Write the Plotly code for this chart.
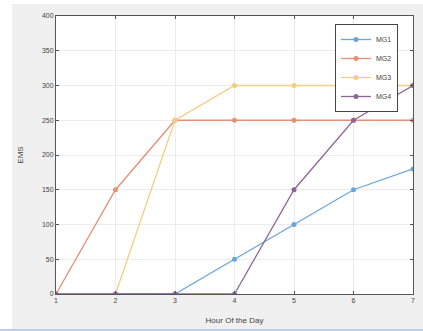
import plotly.graph_objects as go

hours = [1, 2, 3, 4, 5, 6, 7]
mg1 = [0, 0, 0, 50, 100, 150, 180]
mg2 = [0, 150, 250, 250, 250, 250, 250]
mg3 = [0, 0, 250, 300, 300, 300, 300]
mg4 = [0, 0, 0, 0, 150, 250, 300]
names = ["MG1", "MG2", "MG3", "MG4"]
colors = ["#6aa6d8", "#e39078", "#f0cf85", "#8f6599"]
x_ticks = [1, 2, 3, 4, 5, 6, 7]
y_ticks = [0, 50, 100, 150, 200, 250, 300, 350, 400]

fig = go.Figure()
for name, vals, c in zip(names, [mg1, mg2, mg3, mg4], colors):
    fig.add_trace(go.Scatter(x=hours, y=vals, name=name, mode="lines+markers",
                             line=dict(color=c, width=1.3),
                             marker=dict(color=c, size=5)))

axis_common = dict(showline=True, linecolor="#555", linewidth=1, mirror="ticks",
                   ticks="inside", ticklen=3, tickcolor="#555",
                   showgrid=True, gridcolor="#ececec", zeroline=False, automargin=False,
                   tickfont=dict(size=7, color="#444", family="Arial"))

PH = 278.0
PW = 357.0

fig.update_layout(
    width=423, height=331,
    margin=dict(l=56, r=10, t=16, b=37),
    paper_bgcolor="#f0f0f0", plot_bgcolor="white",
    xaxis=dict(range=[1, 7], tickvals=x_ticks,
               title=dict(text="Hour Of the Day", font=dict(size=8, color="#444", family="Arial"), standoff=13),
               **axis_common),
    yaxis=dict(range=[0, 400], tickvals=y_ticks,
               title=dict(text="EMS", font=dict(size=8, color="#444", family="Arial"), standoff=17),
               **axis_common),
    legend=dict(x=(335 - 56) / PW, y=(294 - 24) / PH, xanchor="left", yanchor="top",
                bgcolor="white", bordercolor="#444", borderwidth=1,
                font=dict(size=7, color="#444", family="Arial"),
                itemwidth=30, tracegroupgap=0),
    showlegend=True,
    shapes=[
        dict(type="rect", xref="paper", yref="paper", x0=-0.2, x1=-(56 - 12) / PW, y0=-0.2, y1=1.2,
             fillcolor="white", line=dict(width=0), layer="below"),
        dict(type="rect", xref="paper", yref="paper", x0=-0.2, x1=1.2, y0=(294 - 4) / PH, y1=1.2,
             fillcolor="white", line=dict(width=0), layer="below"),
        dict(type="rect", xref="paper", yref="paper", x0=-0.2, x1=1.2, y0=-0.2, y1=-(329 - 294) / PH,
             fillcolor="#b9d0e6", line=dict(width=0), layer="below"),
    ],
)

fig.write_html("out.html")
